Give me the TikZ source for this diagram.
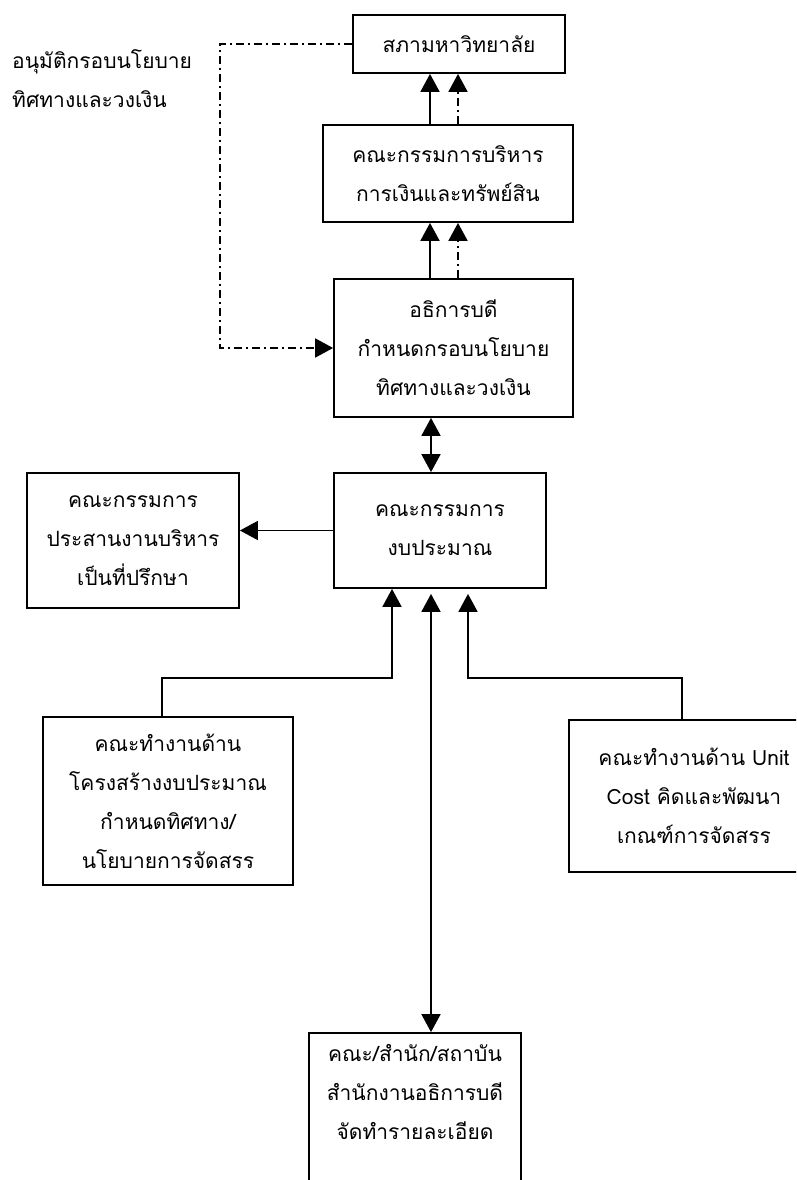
\documentclass[tikz,border=0pt]{standalone}
\usepackage{fontspec}
\newfontfamily\thaifont[Script=Thai]{Loma}
\usetikzlibrary{arrows.meta}

\begin{document}
\begin{tikzpicture}[x=1pt,y=-1pt,line width=1.8pt,
    font=\thaifont\fontsize{21}{39}\selectfont,
    box/.style={draw,align=center,inner sep=0pt},
    tip/.style={-{Triangle[length=18pt,width=19pt]}},
    twotip/.style={{Triangle[length=18pt,width=19pt]}-{Triangle[length=18pt,width=19pt]}},
    dashdot/.style={dash pattern=on 8pt off 4pt on 2pt off 4pt}]
    \useasboundingbox (0,0) rectangle (796,1180);
    \clip (0,0) rectangle (796,1180);
    % boxes
    \node[box,minimum width=212pt,minimum height=58pt] (council) at (459,44) {สภามหาวิทยาลัย};
    \node[box,minimum width=250pt,minimum height=97pt] (finboard) at (448,173.5) {คณะกรรมการบริหาร\\การเงินและทรัพย์สิน};
    \node[box,minimum width=239pt,minimum height=138pt] (president) at (453.5,348) {อธิการบดี\\กำหนดกรอบนโยบาย\\ทิศทางและวงเงิน};
    \node[box,minimum width=212pt,minimum height=115pt] (budget) at (440,530.5) {คณะกรรมการ\\งบประมาณ};
    \node[box,minimum width=212pt,minimum height=135pt] (advisory) at (133,540.5) {คณะกรรมการ\\ประสานงานบริหาร\\เป็นที่ปรึกษา};
    \node[box,minimum width=250pt,minimum height=168pt] (structwg) at (168,801) {คณะทำงานด้าน\\โครงสร้างงบประมาณ\\กำหนดทิศทาง/\\นโยบายการจัดสรร};
    \node[box,minimum width=250pt,minimum height=152pt] (costwg) at (694,796) {คณะทำงานด้าน Unit\\Cost คิดและพัฒนา\\เกณฑ์การจัดสรร};
    \node[box,minimum width=212pt,minimum height=168pt] (units) at (415,1117) {คณะ/สำนัก/สถาบัน\\สำนักงานอธิการบดี\\จัดทำรายละเอียด\\\strut};
    \node[anchor=west,align=left] (approve) at (8,79) {อนุมัติกรอบนโยบาย\\ทิศทางและวงเงิน};
    % connectors
    \coordinate (sx) at (430,0);
    \coordinate (dx) at (458,0);
    \coordinate (mx) at (431,0);
    \coordinate (jl) at (392,678);
    \coordinate (jr) at (468,678);
    \coordinate (dl) at (220,200);
    \draw[tip] (finboard.north -| sx) -- (council.south -| sx);
    \draw[tip,dashdot] (finboard.north -| dx) -- (council.south -| dx);
    \draw[tip] (president.north -| sx) -- (finboard.south -| sx);
    \draw[tip,dashdot] (president.north -| dx) -- (finboard.south -| dx);
    \draw[twotip] (president.south -| mx) -- (budget.north -| mx);
    \draw[tip] (budget.west) -- (advisory.east |- budget.west);
    \draw[tip] ([xshift=-6pt]structwg.north) |- (jl) -- (budget.south -| jl);
    \draw[tip,shorten >=5pt] ([xshift=-12pt]costwg.north) |- (jr) -- (budget.south -| jr);
    \draw[twotip,shorten <=5pt] (budget.south -| mx) -- (units.north -| mx);
    \draw[tip,dashdot] (council.west) -| (dl) |- (president.west);
\end{tikzpicture}
\end{document}
